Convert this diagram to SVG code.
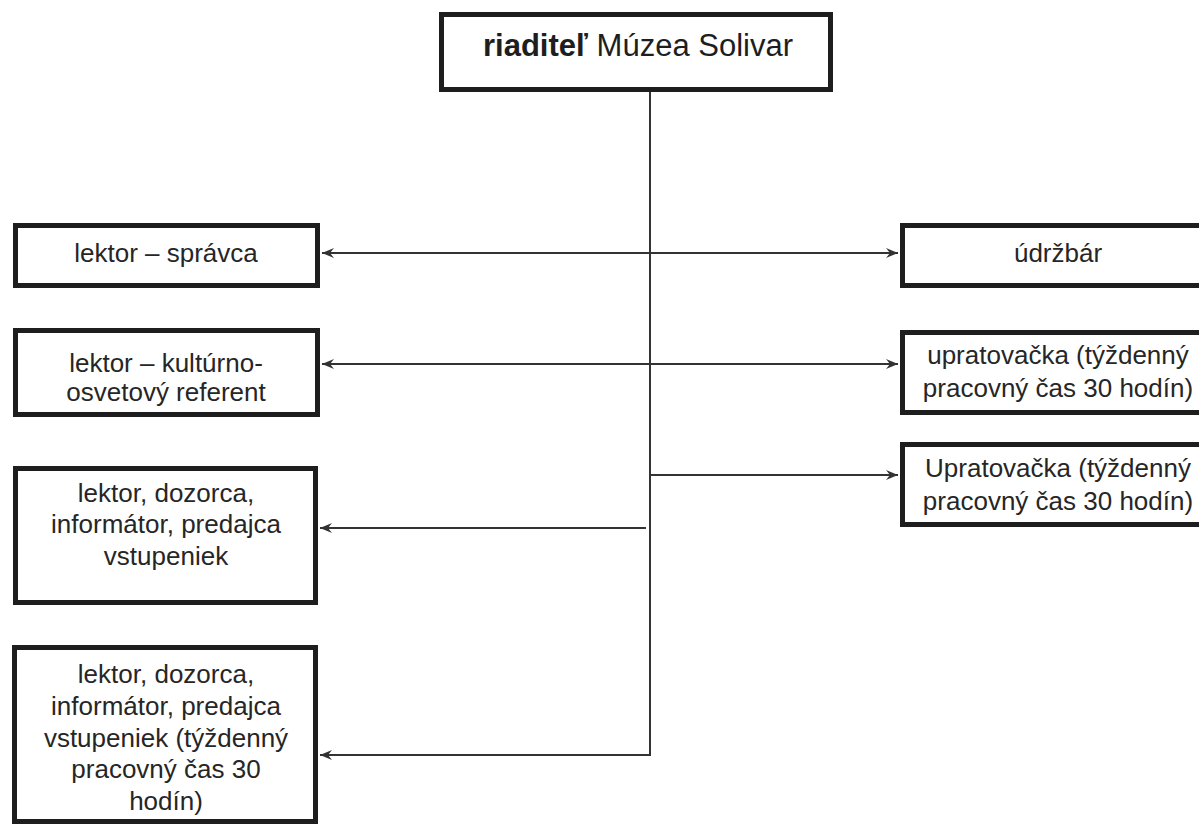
<svg xmlns="http://www.w3.org/2000/svg" width="1199" height="826" viewBox="0 0 1199 826">
<defs>
<style>
.box{fill:#fff;stroke:#1e1e1e;stroke-width:5}
.t{font-family:"Liberation Sans",Arial,sans-serif;font-size:26px;fill:#262626;text-anchor:middle}
.top{font-family:"Liberation Sans",Arial,sans-serif;font-size:31px;fill:#1e1e1e;text-anchor:middle}
.c{stroke:#333;stroke-width:2;fill:none}
</style>
<marker id="ah" viewBox="0 0 12 10" refX="12" refY="5" markerWidth="12" markerHeight="10" markerUnits="userSpaceOnUse" orient="auto">
<path d="M0,0 L12,5 L0,10 L4,5 Z" fill="#333"/>
</marker>
</defs>
<rect width="1199" height="826" fill="#fff"/>
<g id="connectors">
<line class="c" x1="650" y1="92" x2="650" y2="755"/>
<line class="c" x1="650" y1="253" x2="322" y2="253" marker-end="url(#ah)"/>
<line class="c" x1="650" y1="253" x2="898" y2="253" marker-end="url(#ah)"/>
<line class="c" x1="650" y1="364" x2="322" y2="364" marker-end="url(#ah)"/>
<line class="c" x1="650" y1="364" x2="898" y2="364" marker-end="url(#ah)"/>
<line class="c" x1="650" y1="475" x2="898" y2="475" marker-end="url(#ah)"/>
<line class="c" x1="646" y1="528" x2="320" y2="528" marker-end="url(#ah)"/>
<line class="c" x1="651" y1="755" x2="320" y2="755" marker-end="url(#ah)"/>
</g>
<g id="director">
<rect class="box" x="441.5" y="14.5" width="389" height="75"/>
<text class="top" x="638" y="56"><tspan font-weight="bold">riaditeľ</tspan> Múzea Solivar</text>
</g>
<g id="lektor-spravca">
<rect class="box" x="15.5" y="225.5" width="302" height="60"/>
<text class="t" x="166" y="262">lektor – správca</text>
</g>
<g id="lektor-referent">
<rect class="box" x="15.5" y="330.5" width="302" height="84"/>
<text class="t" x="166" y="372">lektor – kultúrno-</text>
<text class="t" x="166" y="401">osvetový referent</text>
</g>
<g id="lektor-dozorca-1">
<rect class="box" x="15.5" y="468.5" width="300" height="134"/>
<text class="t" x="166" y="502">lektor, dozorca,</text>
<text class="t" x="166" y="533">informátor, predajca</text>
<text class="t" x="166" y="565">vstupeniek</text>
</g>
<g id="lektor-dozorca-2">
<rect class="box" x="14.5" y="647.5" width="301" height="174"/>
<text class="t" x="166" y="683">lektor, dozorca,</text>
<text class="t" x="166" y="715">informátor, predajca</text>
<text class="t" x="166" y="747">vstupeniek (týždenný</text>
<text class="t" x="166" y="778">pracovný čas 30</text>
<text class="t" x="166" y="810">hodín)</text>
</g>
<g id="udrzbar">
<rect class="box" x="902.5" y="225.5" width="312" height="60"/>
<text class="t" x="1058" y="262">údržbár</text>
</g>
<g id="upratovacka-1">
<rect class="box" x="902.5" y="332.5" width="312" height="80"/>
<text class="t" x="1058" y="364">upratovačka (týždenný</text>
<text class="t" x="1058" y="397">pracovný čas 30 hodín)</text>
</g>
<g id="upratovacka-2">
<rect class="box" x="902.5" y="444.5" width="312" height="80"/>
<text class="t" x="1058" y="477">Upratovačka (týždenný</text>
<text class="t" x="1058" y="510">pracovný čas 30 hodín)</text>
</g>
</svg>
